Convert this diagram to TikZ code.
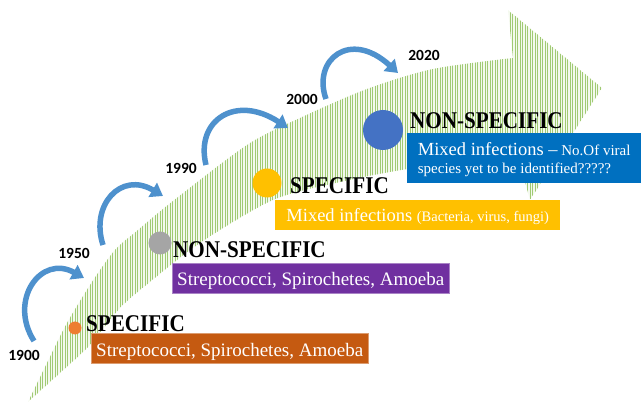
\documentclass[tikz,border=0pt]{standalone}
\usepackage{fontspec}
\setmainfont{Liberation Serif}
\newfontfamily\headfont[FakeStretch=0.88]{Liberation Serif}
\newfontfamily\yearfont{Carlito}
\usetikzlibrary{arrows.meta,patterns.meta}
\definecolor{bandgreen}{RGB}{160,202,115}
\definecolor{hopblue}{RGB}{78,145,205}
\definecolor{dotorange}{RGB}{237,125,49}
\definecolor{dotgray}{RGB}{165,165,165}
\definecolor{dotyellow}{RGB}{255,192,0}
\definecolor{dotblue}{RGB}{68,114,196}
\definecolor{boxorange}{RGB}{197,90,17}
\definecolor{boxpurple}{RGB}{112,48,160}
\definecolor{boxyellow}{RGB}{255,192,0}
\definecolor{boxblue}{RGB}{0,112,192}
\begin{document}
\begin{tikzpicture}[x=1pt,y=-1pt]
\tikzstyle{every node}+=[inner sep=0pt]
\tikzstyle{year}=[font=\yearfont\bfseries\fontsize{15.5}{15.5}\selectfont]
\tikzstyle{dot}=[circle]
\tikzstyle{head}=[anchor=base west, font=\headfont\bfseries\fontsize{24}{24}\selectfont]
\tikzstyle{infobox}=[anchor=base west, text=white, inner xsep=5pt, font=\fontsize{19}{19}\selectfont]
\tikzstyle{hop}=[hopblue, line width=5.5pt, -{Triangle[width=16pt,length=12pt]}]
\useasboundingbox (0,0) rectangle (641,403);
\fill [pattern={Lines[angle=90,distance=2.5pt,line width=0.9pt]}, pattern color=bandgreen, preaction={fill=bandgreen!12}]
  (28,402) -- plot[smooth] coordinates {(28,402) (47,363) (67,323) (92,282) (115,250) (138,230) (173,201) (247,145) (300,118) (367,89) (433,69) (513,58)}
  -- (508,10) -- (602,88) -- (530,200) -- (517,152)
  -- plot[smooth] coordinates {(517,152) (407,169) (340,182) (273,200) (200,243) (150,282) (120,308) (90,345) (60,373) (28,402)} -- cycle;
\node [year] (y1900) at (24,355) {1900};
\node [year] (y1950) at (74,253) {1950};
\node [year] (y1990) at (181,168) {1990};
\node [year] (y2000) at (302,99) {2000};
\node [year] (y2020) at (424,55) {2020};
\coordinate (t1) at (34,341);
\coordinate (p1) at (84,278);
\coordinate (t2) at (103,245);
\coordinate (p2) at (163,196);
\coordinate (t3) at (206,165);
\coordinate (p3) at (288,128);
\coordinate (t4) at (326,99);
\coordinate (p4) at (398,73);
\draw [hop] (t1) .. controls +(-26,-41) and +(-43,-24) .. (p1);
\draw [hop] (t2) .. controls +(-13,-40) and +(-42,-25) .. (p2);
\draw [hop] (t3) .. controls +(-11,-45) and +(-52,-34) .. (p3);
\draw [hop] (t4) .. controls +(-14,-39) and +(-48,-44) .. (p4);
\node [dot, fill=dotorange, minimum size=13pt] (d1) at (75,328) {};
\node [dot, fill=dotgray, minimum size=23pt] (d2) at (160,243) {};
\node [dot, fill=dotyellow, minimum size=29pt] (d3) at (267,183) {};
\node [dot, fill=dotblue, minimum size=40pt] (d4) at (383,130) {};
\node [head] (h1) at (86,332) {SPECIFIC};
\node [head] (h2) at (173,258) {NON-SPECIFIC};
\node [head] (h3) at (290,194) {SPECIFIC};
\node [head] (h4) at (410,129) {NON-SPECIFIC};
\node [infobox, fill=boxorange, draw=boxorange!60!white, minimum width=276pt, text height=24pt, text depth=6pt] (b1) at (91,357) {Streptococci, Spirochetes, Amoeba};
\node [infobox, fill=boxpurple, draw=boxpurple!60!white, minimum width=275pt, text height=23pt, text depth=7pt] (b2) at (172,286) {Streptococci, Spirochetes, Amoeba};
\node [infobox, fill=boxyellow, minimum width=285pt, text height=22pt, text depth=8pt, font=\fontsize{18.5}{18.5}\selectfont] (b3) at (275,222) {Mixed infections {\fontsize{14.5}{14.5}\selectfont (Bacteria, virus, fungi)}};
\node [infobox, fill=boxblue, minimum width=234pt, text height=23pt, text depth=27pt, font=\fontsize{15}{18}\selectfont] (b4) at (407,156) {\vtop{\hbox{{\fontsize{18.5}{18}\selectfont Mixed infections --} No.Of viral}\hbox{species yet to be identified?????}}};
\end{tikzpicture}
\end{document}
